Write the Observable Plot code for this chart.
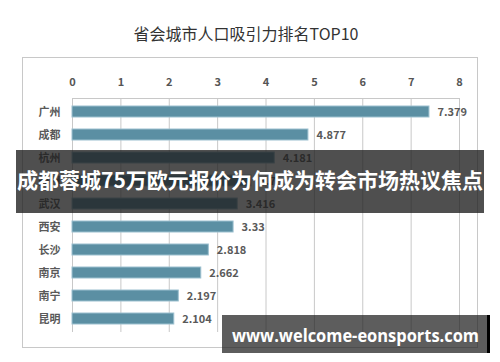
<!DOCTYPE html>
<html>
<head>
<meta charset="utf-8">
<script src="https://cdn.jsdelivr.net/npm/d3@7"></script>
<script src="https://cdn.jsdelivr.net/npm/@observablehq/plot@0.6"></script>
<style>
  html, body { margin: 0; padding: 0; background: #fff; }
  #chart { width: 500px; height: 362px; }
  svg { display: block; }
</style>
</head>
<body>
<div id="chart"></div>
<script>
const cities = ["广州", "成都", "杭州", "郑州", "武汉", "西安", "长沙", "南京", "南宁", "昆明"];
const values = [7.379, 4.877, 4.181, 3.7, 3.416, 3.33, 2.818, 2.662, 2.197, 2.104];
const valueLabels = ["7.379", "4.877", "4.181", "3.7", "3.416", "3.33", "2.818", "2.662", "2.197", "2.104"];
const xTicks = [0, 1, 2, 3, 4, 5, 6, 7, 8];
const titleText = "省会城市人口吸引力排名TOP10";
const bannerText = "成都蓉城75万欧元报价为何成为转会市场热议焦点";
const watermarkText = "www.welcome-eonsports.com";

const data = cities.map((c, i) => ({city: c, value: values[i], label: valueLabels[i]}));
const font = "'Noto Sans CJK SC', 'Noto Sans', sans-serif";

const chart = Plot.plot({
  width: 500,
  height: 362,
  marginTop: 98,
  marginBottom: 30,
  marginLeft: 72,
  marginRight: 41,
  style: {fontFamily: font, fontSize: "11px", color: "#555", background: "#fff"},
  x: {domain: [0, 8], ticks: xTicks, label: null},
  y: {domain: cities, padding: 0, label: null},
  marks: [
    Plot.gridX(xTicks, {stroke: "#c8c8c8", strokeOpacity: 1}),
    Plot.frame({anchor: "top", stroke: "#c8c8c8"}),
    Plot.barX(data, {x: "value", y: "city", fill: "#5b8fa3", stroke: "#9cc0cf", strokeWidth: 1, insetTop: 6, insetBottom: 6}),
    Plot.text(data, {x: "value", y: "city", text: "label", textAnchor: "start", dx: 8, fill: "#595959", fontSize: 11, fontWeight: "bold"}),
    Plot.axisX(xTicks, {anchor: "top", tickSize: 0, tickPadding: 13, fill: "#555", fontSize: 11, fontWeight: "bold", label: null, tickFormat: d => String(d)}),
    Plot.axisY({tickSize: 0, tickPadding: 12, fill: "#595959", fontSize: 11, fontWeight: "bold", label: null})
  ]
});
document.getElementById("chart").appendChild(chart);

const svg = d3.select(chart);
// outer frame
svg.insert("rect", ":first-child")
  .attr("x", 22.5).attr("y", 57.5).attr("width", 455).attr("height", 290)
  .attr("fill", "none").attr("stroke", "#c8c8c8");
// title
svg.append("text")
  .attr("x", 246).attr("y", 36).attr("text-anchor", "middle").attr("dominant-baseline", "middle")
  .attr("font-family", font).attr("font-size", 16).attr("fill", "#333")
  .text(titleText);
// banner
svg.append("rect").attr("x", 16).attr("y", 150).attr("width", 468).attr("height", 63)
  .attr("fill", "rgba(30,30,30,0.78)");
svg.append("text")
  .attr("x", 250).attr("y", 182).attr("text-anchor", "middle").attr("dominant-baseline", "middle")
  .attr("font-family", font).attr("font-weight", "bold").attr("font-size", 21).attr("fill", "#fff")
  .attr("textLength", 466).attr("lengthAdjust", "spacingAndGlyphs")
  .text(bannerText);
// watermark
svg.append("rect").attr("x", 222).attr("y", 315).attr("width", 265).attr("height", 38)
  .attr("fill", "rgba(30,30,30,0.72)");
svg.append("rect").attr("x", 487).attr("y", 315).attr("width", 3).attr("height", 38)
  .attr("fill", "#000");
svg.append("text")
  .attr("x", 355.5).attr("y", 337).attr("text-anchor", "middle").attr("dominant-baseline", "middle")
  .attr("font-family", "'Open Sans', 'DejaVu Sans', sans-serif").attr("font-weight", "bold").attr("font-size", 18).attr("fill", "#fff")
  .attr("textLength", 247).attr("lengthAdjust", "spacingAndGlyphs")
  .text(watermarkText);
</script>
</body>
</html>
